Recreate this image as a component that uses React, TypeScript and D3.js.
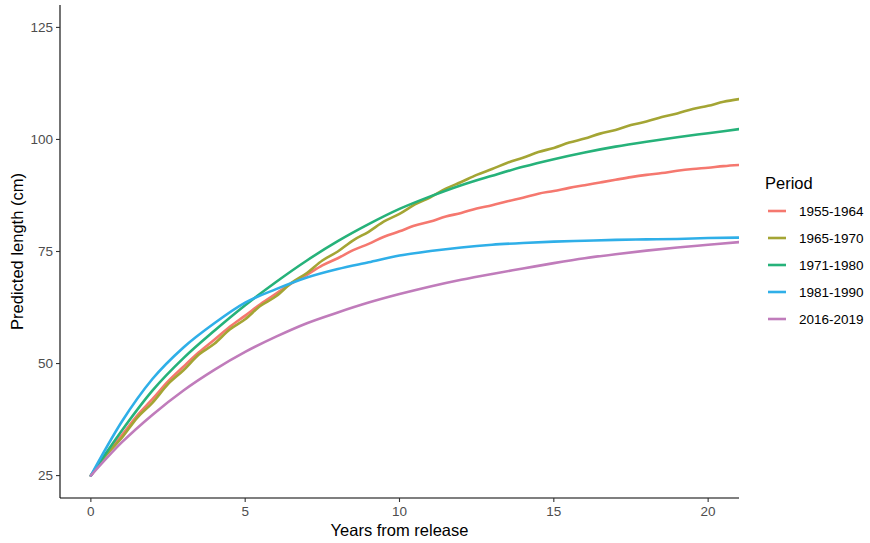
import React from 'react';
import * as d3 from 'd3';

// years sampled once a year (smooth curves) and every half year (wiggly curves)
const yearsWhole = d3.range(0, 22);
const yearsHalf = d3.range(0, 21.5, 0.5);

const p1955 = [25, 30.0, 34.0, 38.4, 42.1, 46.0, 49.3, 52.5, 55.3, 58.2, 60.7, 63.3, 65.6, 67.9, 69.8, 71.9, 73.5, 75.3, 76.7, 78.3, 79.5, 80.8, 81.7, 82.8, 83.6, 84.6, 85.3, 86.2, 87.0, 87.9, 88.5, 89.2, 89.8, 90.4, 91.0, 91.6, 92.1, 92.5, 93.0, 93.4, 93.7, 94.05, 94.3];
const p1965 = [25, 29.6, 33.4, 37.9, 41.3, 45.4, 48.5, 52.0, 54.4, 57.6, 59.9, 62.9, 65.0, 68.0, 70.2, 73.0, 75.0, 77.5, 79.4, 81.7, 83.4, 85.5, 87.1, 89.0, 90.5, 92.1, 93.4, 94.8, 95.9, 97.2, 98.1, 99.3, 100.2, 101.3, 102.1, 103.2, 104.0, 105.0, 105.8, 106.8, 107.5, 108.4, 109.0];
const p1971 = [25, 35.0, 44.0, 51.2, 57.3, 63.0, 68.2, 73.0, 77.3, 81.1, 84.5, 87.3, 89.8, 91.9, 93.9, 95.6, 97.1, 98.4, 99.5, 100.5, 101.4, 102.3];
const p1981 = [25, 37.0, 46.6, 53.6, 59.0, 63.6, 66.6, 69.2, 71.1, 72.6, 74.1, 75.1, 75.9, 76.5, 76.9, 77.2, 77.4, 77.6, 77.7, 77.8, 78.0, 78.1];
const p2016 = [25, 32.4, 38.6, 44.0, 48.6, 52.6, 56.0, 59.0, 61.4, 63.6, 65.5, 67.2, 68.7, 70.0, 71.2, 72.4, 73.5, 74.4, 75.2, 75.9, 76.5, 77.1];

const periods = ['1955-1964', '1965-1970', '1971-1980', '1981-1990', '2016-2019'];
const colors = ['#F5786F', '#A4A534', '#26B27A', '#2FAFE8', '#C07CBB'];
const seriesX = [yearsHalf, yearsHalf, yearsWhole, yearsWhole, yearsWhole];
const seriesY = [p1955, p1965, p1971, p1981, p2016];

const xTicks = [0, 5, 10, 15, 20];
const yTicks = [25, 50, 75, 100, 125];

const W = 870;
const H = 543;
const left = 60;
const right = 739;
const top = 5;
const bottom = 498;
const font = "'Liberation Sans', Arial, sans-serif";

export default function App() {
  const x = d3.scaleLinear().domain([-1, 21]).range([left, right]);
  const y = d3.scaleLinear().domain([20, 130]).range([bottom, top]);

  const line = d3
    .line<[number, number]>()
    .x(d => x(d[0]))
    .y(d => y(d[1]))
    .curve(d3.curveMonotoneX);

  const legendX = 765;
  const legendY = 211;
  const legendStep = 27;

  return (
    <svg
      width={W}
      height={H}
      style={{ position: 'absolute', left: 0, top: 0, background: '#fff' }}
      fontFamily={font}
    >
      <defs>
        <clipPath id="panel">
          <rect x={left} y={top} width={right - left} height={bottom - top} />
        </clipPath>
      </defs>

      <g clipPath="url(#panel)">
        {periods.map((p, i) => (
          <path
            key={p}
            d={line(seriesX[i].map((t, j) => [t, seriesY[i][j]] as [number, number])) || ''}
            fill="none"
            stroke={colors[i]}
            strokeWidth={2.6}
            strokeLinejoin="round"
            strokeLinecap="round"
          />
        ))}
      </g>

      {/* axes */}
      <line x1={left} x2={left} y1={top} y2={bottom} stroke="#000" strokeWidth={1.1} />
      <line x1={left} x2={right} y1={bottom} y2={bottom} stroke="#000" strokeWidth={1.1} />

      {yTicks.map(t => (
        <g key={'y' + t}>
          <line x1={left - 4} x2={left} y1={y(t)} y2={y(t)} stroke="#333" strokeWidth={1.1} />
          <text x={left - 7} y={y(t)} dy="0.35em" textAnchor="end" fontSize={13.5} fill="#4D4D4D">
            {t}
          </text>
        </g>
      ))}
      {xTicks.map(t => (
        <g key={'x' + t}>
          <line x1={x(t)} x2={x(t)} y1={bottom} y2={bottom + 4} stroke="#333" strokeWidth={1.1} />
          <text x={x(t)} y={bottom + 18} textAnchor="middle" fontSize={13.5} fill="#4D4D4D">
            {t}
          </text>
        </g>
      ))}

      <text x={(left + right) / 2} y={536} textAnchor="middle" fontSize={16.5} fill="#000">
        Years from release
      </text>
      <text
        transform={`translate(23, ${(top + bottom) / 2}) rotate(-90)`}
        textAnchor="middle"
        fontSize={16.5}
        fill="#000"
      >
        Predicted length (cm)
      </text>

      {/* legend */}
      <text x={legendX} y={189} fontSize={16.5} fill="#000">
        Period
      </text>
      {periods.map((p, i) => (
        <g key={'l' + p} transform={`translate(${legendX}, ${legendY + i * legendStep})`}>
          <line x1={3} x2={21} y1={0} y2={0} stroke={colors[i]} strokeWidth={2.6} />
          <text x={34} y={0} dy="0.35em" fontSize={13.5} fill="#000">
            {p}
          </text>
        </g>
      ))}
    </svg>
  );
}
